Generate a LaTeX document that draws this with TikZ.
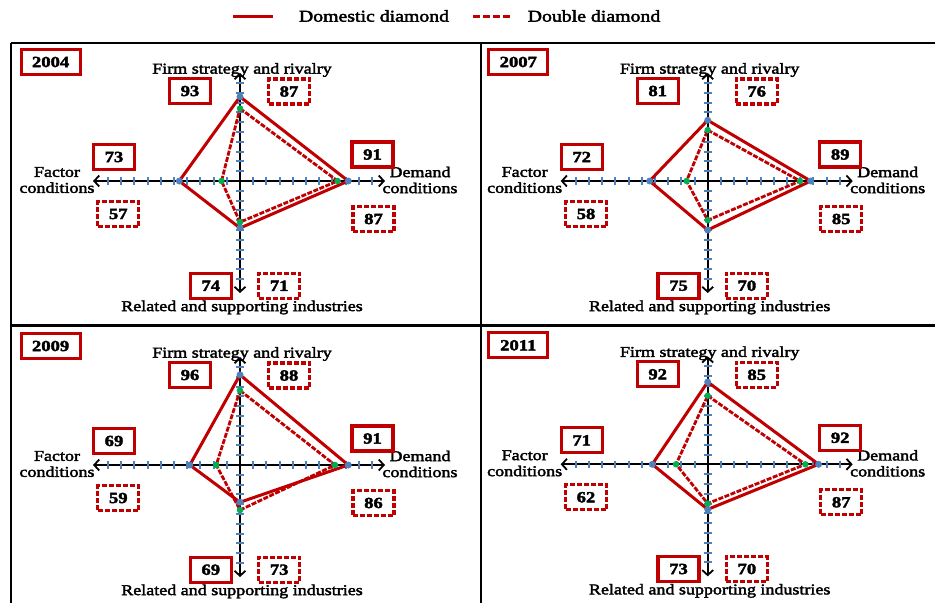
\documentclass[tikz,border=0pt]{standalone}
\usepackage{fontspec}
\setmainfont{Liberation Serif}[FakeStretch=1.2, FakeBold=2.5]
\usetikzlibrary{arrows.meta}
\definecolor{dred}{HTML}{C00000}
\definecolor{tblue}{HTML}{4F81BD}
\definecolor{mgreen}{HTML}{00B050}
\begin{document}
\begin{tikzpicture}[x=1pt,y=-1pt,
  frameline/.style={black, line width=1.8pt},
  axisline/.style={black, line width=2.3pt, {Straight Barb[length=5pt,width=11pt,line width=1.8pt]}-{Straight Barb[length=5pt,width=11pt,line width=1.8pt]}},
  tickmark/.style={tblue, line width=2pt},
  dom/.style={dred, line width=3pt, line join=round},
  dbl/.style={dred, line width=2.8pt, line join=round, dash pattern=on 5pt off 1.5pt},
  valbox/.style={draw=dred, line width=3.2pt, fill=white, minimum width=41pt, minimum height=25pt, inner sep=0pt, font=\fontsize{15.5}{16}\selectfont\bfseries},
  dvalbox/.style={valbox, dash pattern=on 5pt off 2pt},
  yearbox/.style={valbox, minimum width=59pt},
  lbl/.style={font=\fontsize{15}{16}\selectfont, inner sep=0pt, align=center},
  dmark/.style={circle, fill=tblue, inner sep=0pt, minimum size=7pt},
  gmark/.style={circle, fill=mgreen, inner sep=0pt, minimum size=6.5pt},
]
\useasboundingbox (0,0) rectangle (935,603);

% frame
\coordinate (ftl) at (10.7,43.3);
\coordinate (ftr) at (935,43.3);
\coordinate (fbl) at (10.7,603);
\coordinate (fmt) at (480.7,43.3);
\coordinate (fmb) at (480.7,603);
\coordinate (fml) at (10.7,325);
\coordinate (fmr) at (935,325);
\draw[frameline] (ftl) -- (ftr);
\draw[frameline] (ftl) -- (fbl);
\draw[frameline] (fmt) -- (fmb);
\draw[frameline, line width=3pt] (fml) -- (fmr);

% legend
\coordinate (la1) at (232.6,16);
\coordinate (la2) at (273.1,16);
\coordinate (lb1) at (472.9,16);
\coordinate (lb2) at (511.6,16);
\draw[dom, line width=3pt] (la1) -- (la2);
\draw[dbl, line width=3pt, dash pattern=on 7pt off 3pt] (lb1) -- (lb2);
\node[lbl, font=\fontsize{16.5}{17}\selectfont] (legdom) at (374,16) {Domestic diamond};
\node[lbl, font=\fontsize{16.5}{17}\selectfont] (legdbl) at (594,16) {Double diamond};

\foreach \cx/\cy/\yr/\vF/\vD/\vT/\vB/\wF/\wD/\wT/\wB in {
  240/181/2004/73/91/93/74/57/87/87/71,
  707.7/181/2007/72/89/81/75/58/85/76/70,
  240/465/2009/69/91/96/69/59/86/88/73,
  707.7/464.3/2011/71/92/92/73/62/87/85/70}{
  % axes
  \coordinate (L\yr) at ({\cx-147},\cy);
  \coordinate (R\yr) at ({\cx+145},\cy);
  \coordinate (T\yr) at (\cx,{\cy-108});
  \coordinate (B\yr) at (\cx,{\cy+112});
  \draw[axisline] (L\yr) -- (R\yr);
  \draw[axisline] (T\yr) -- (B\yr);
  \foreach \k in {-10,...,-1,1,2,...,10}{
    \draw[tickmark] ({\cx+(\k)*13.2},{\cy-3.8}) -- ++(0,7.6);
    \draw[tickmark] ({\cx-4},{\cy+(\k)*9.8}) -- ++(8,0);
  }
  % data points
  \coordinate (dF\yr) at ({\cx-(\vF-50)*2.64},\cy);
  \coordinate (dD\yr) at ({\cx+(\vD-50)*2.64},\cy);
  \coordinate (dT\yr) at (\cx,{\cy-(\vT-50)*1.96});
  \coordinate (dB\yr) at (\cx,{\cy+(\vB-50)*1.96});
  \coordinate (gF\yr) at ({\cx-(\wF-50)*2.64},\cy);
  \coordinate (gD\yr) at ({\cx+(\wD-50)*2.64},\cy);
  \coordinate (gT\yr) at (\cx,{\cy-(\wT-50)*1.96});
  \coordinate (gB\yr) at (\cx,{\cy+(\wB-50)*1.96});
  \draw[dbl] (gT\yr) -- (gD\yr) -- (gB\yr) -- (gF\yr) -- cycle;
  \draw[dom] (dT\yr) -- (dD\yr) -- (dB\yr) -- (dF\yr) -- cycle;
  \foreach \s in {F,D,T,B}{
    \node[dmark] (md\s\yr) at (d\s\yr) {};
    \node[gmark] (mg\s\yr) at (g\s\yr) {};
  }
  % labels
  \node[lbl] (firm\yr) at ({\cx+2},{\cy-111}) {Firm strategy and rivalry};
  \node[lbl] (fac\yr) at ({\cx-183},{\cy-1}) {Factor\\conditions};
  \node[lbl] (dem\yr) at ({\cx+180},{\cy-1}) {Demand\\conditions};
  \node[lbl] (rel\yr) at ({\cx+2},{\cy+126.5}) {Related and supporting industries};
  % value boxes
  \node[yearbox] (year\yr) at ({\cx-189.4},{\cy-119}) {\yr};
  \node[valbox]  (vT\yr) at ({\cx-50},{\cy-90}) {\vT};
  \node[dvalbox] (wT\yr) at ({\cx+49},{\cy-89.5}) {\wT};
  \node[valbox]  (vF\yr) at ({\cx-126},{\cy-24}) {\vF};
  \node[dvalbox] (wF\yr) at ({\cx-121.7},{\cy+33}) {\wF};
  \node[valbox]  (vD\yr) at ({\cx+132.5},{\cy-26.5}) {\vD};
  \node[dvalbox] (wD\yr) at ({\cx+133.5},{\cy+38}) {\wD};
  \node[valbox]  (vB\yr) at ({\cx-29.2},{\cy+104.7}) {\vB};
  \node[dvalbox] (wB\yr) at ({\cx+39.2},{\cy+104.7}) {\wB};
}
\end{tikzpicture}
\end{document}
